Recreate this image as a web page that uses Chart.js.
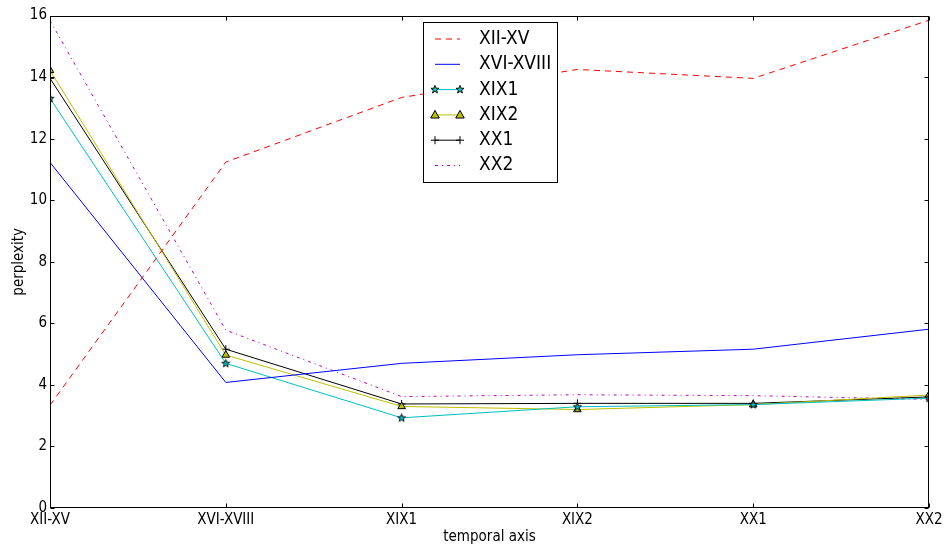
<!DOCTYPE html>
<html><head><meta charset="utf-8">
<script src="https://cdn.jsdelivr.net/npm/chart.js@4"></script>
<style>html,body{margin:0;padding:0;background:#fff}canvas{display:block}</style>
</head><body>
<canvas id="c" width="948" height="548"></canvas>
<script>
const categories = ['XII-XV','XVI-XVIII','XIX1','XIX2','XX1','XX2'];
const seriesNames = ['XII-XV','XVI-XVIII','XIX1','XIX2','XX1','XX2'];
const valuesXIIXV   = [3.34, 11.24, 13.34, 14.25, 13.96, 15.85];
const valuesXVIXVIII= [11.23, 4.08, 4.70, 4.98, 5.16, 5.81];
const valuesXIX1    = [13.31, 4.70, 2.93, 3.29, 3.36, 3.57];
const valuesXIX2    = [14.22, 4.97, 3.30, 3.20, 3.36, 3.67];
const valuesXX1     = [13.96, 5.16, 3.38, 3.40, 3.40, 3.61];
const valuesXX2     = [15.84, 5.78, 3.62, 3.68, 3.65, 3.53];
const yTickValues   = [0, 2, 4, 6, 8, 10, 12, 14, 16];

const FONT = "'DejaVu Sans Condensed', 'DejaVu Sans', sans-serif";

function drawStar(ctx, cx, cy, R) {
  const r = R * 0.42;
  ctx.beginPath();
  for (let i = 0; i < 10; i++) {
    const a = -Math.PI / 2 + i * Math.PI / 5;
    const rr = i % 2 === 0 ? R : r;
    const x = cx + rr * Math.cos(a), y = cy + rr * Math.sin(a);
    i === 0 ? ctx.moveTo(x, y) : ctx.lineTo(x, y);
  }
  ctx.closePath();
  ctx.fillStyle = '#00bfbf'; ctx.fill();
  ctx.strokeStyle = '#000'; ctx.lineWidth = 0.9; ctx.stroke();
}
function drawTri(ctx, cx, cy, R) {
  ctx.beginPath();
  ctx.moveTo(cx, cy - R);
  ctx.lineTo(cx + R * 0.95, cy + R * 0.7);
  ctx.lineTo(cx - R * 0.95, cy + R * 0.7);
  ctx.closePath();
  ctx.fillStyle = '#bfbf00'; ctx.fill();
  ctx.strokeStyle = '#000'; ctx.lineWidth = 1; ctx.stroke();
}
function drawPlus(ctx, cx, cy, R) {
  ctx.beginPath();
  ctx.moveTo(cx - R, cy); ctx.lineTo(cx + R, cy);
  ctx.moveTo(cx, cy - R); ctx.lineTo(cx, cy + R);
  ctx.strokeStyle = '#000'; ctx.lineWidth = 1; ctx.stroke();
}
const starImg = document.createElement('canvas');
starImg.width = 11; starImg.height = 11;
drawStar(starImg.getContext('2d'), 5.5, 5.7, 4.2);

const styles = [
  {color:'#ff0000', dash:[6,5], marker:null},
  {color:'#0000ff', dash:[], marker:null},
  {color:'#00bfbf', dash:[], marker:'star'},
  {color:'#bfbf00', dash:[], marker:'tri'},
  {color:'#000000', dash:[], marker:'plus'},
  {color:'#bf00bf', dash:[3,4,1,4], marker:null}
];
const allValues = [valuesXIIXV, valuesXVIXVIII, valuesXIX1, valuesXIX2, valuesXX1, valuesXX2];

const datasets = allValues.map((vals, i) => {
  const s = styles[i];
  const ds = {
    label: seriesNames[i], data: vals,
    borderColor: s.color, backgroundColor: s.color,
    borderWidth: 1, borderDash: s.dash, tension: 0, fill: false,
    pointRadius: 0, pointHoverRadius: 0, clip: 0
  };
  if (s.marker === 'star') { ds.pointStyle = starImg; ds.pointRadius = 5; }
  if (s.marker === 'tri') { ds.pointStyle = 'triangle'; ds.pointRadius = 4.4; ds.pointBackgroundColor = '#bfbf00'; ds.pointBorderColor = '#000'; ds.pointBorderWidth = 1; }
  if (s.marker === 'plus') { ds.pointStyle = 'cross'; ds.pointRadius = 4; ds.pointBorderColor = '#000'; ds.pointBorderWidth = 1; }
  return ds;
});

const framePlugin = {
  id: 'frame',
  afterDatasetsDraw(chart) {
    const {ctx, chartArea: a, scales: {x, y}} = chart;
    ctx.save();
    ctx.strokeStyle = '#000'; ctx.lineWidth = 1; ctx.setLineDash([]);
    const L = Math.round(a.left) + 0.5, R = Math.round(a.right) - 0.5;
    const T = Math.round(a.top) + 0.5, B = Math.round(a.bottom) - 0.5;
    ctx.beginPath();
    categories.forEach((c, i) => {
      const px = Math.round(x.getPixelForValue(i)) + 0.5;
      ctx.moveTo(px, B); ctx.lineTo(px, B - 4);
      ctx.moveTo(px, T); ctx.lineTo(px, T + 4);
    });
    yTickValues.forEach(v => {
      const py = Math.round(y.getPixelForValue(v)) + 0.5;
      ctx.moveTo(L, py); ctx.lineTo(L + 4, py);
      ctx.moveTo(R, py); ctx.lineTo(R - 4, py);
    });
    ctx.stroke();
    ctx.strokeRect(L, T, R - L, B - T);
    ctx.restore();
  },
  afterDraw(chart) {
    const {ctx} = chart;
    ctx.save();
    const bx = 423.5, by = 22.5, bw = 134, bh = 160;
    ctx.fillStyle = '#fff'; ctx.fillRect(bx, by, bw, bh);
    ctx.strokeStyle = '#000'; ctx.lineWidth = 1; ctx.strokeRect(bx, by, bw, bh);
    seriesNames.forEach((name, i) => {
      const s = styles[i];
      const yy = 39 + i * 25.3;
      ctx.beginPath();
      ctx.setLineDash(s.dash);
      ctx.strokeStyle = s.color; ctx.lineWidth = 1;
      ctx.moveTo(435, yy); ctx.lineTo(460, yy); ctx.stroke();
      ctx.setLineDash([]);
      [435, 460].forEach(px => {
        if (s.marker === 'star') drawStar(ctx, px, yy, 4.2);
        if (s.marker === 'tri') drawTri(ctx, px, yy, 4.5);
        if (s.marker === 'plus') drawPlus(ctx, px, yy, 4);
      });
      ctx.fillStyle = '#000';
      ctx.font = "19px " + FONT;
      ctx.textBaseline = 'middle'; ctx.textAlign = 'left';
      ctx.fillText(name, 479, yy);
    });
    ctx.restore();
  }
};

Chart.defaults.font.family = FONT;
Chart.defaults.color = '#000';

new Chart(document.getElementById('c'), {
  type: 'line',
  data: { labels: categories, datasets },
  options: {
    responsive: false, animation: false,
    layout: { padding: { top: 15.6, right: 19, left: 0, bottom: 0 } },
    plugins: { legend: { display: false }, tooltip: { enabled: false } },
    events: [],
    scales: {
      x: {
        type: 'category', offset: false,
        grid: { display: false, drawTicks: false },
        border: { display: false },
        ticks: { font: { size: 15 }, padding: 3, maxRotation: 0, autoSkip: false },
        title: { display: true, text: 'temporal axis', font: { size: 15 }, padding: { top: 0, bottom: 2 } },
        afterFit(s) { s.height = 40; }
      },
      y: {
        min: 0, max: 16,
        grid: { display: false, drawTicks: false },
        border: { display: false },
        ticks: { font: { size: 15 }, padding: 3, stepSize: 2 },
        afterBuildTicks(s) { s.ticks = yTickValues.map(v => ({ value: v })); },
        title: { display: true, text: 'perplexity', font: { size: 15 }, padding: { top: 10, bottom: 0 } },
        afterFit(s) { s.width = 50; }
      }
    }
  },
  plugins: [framePlugin]
});
</script>
</body></html>
